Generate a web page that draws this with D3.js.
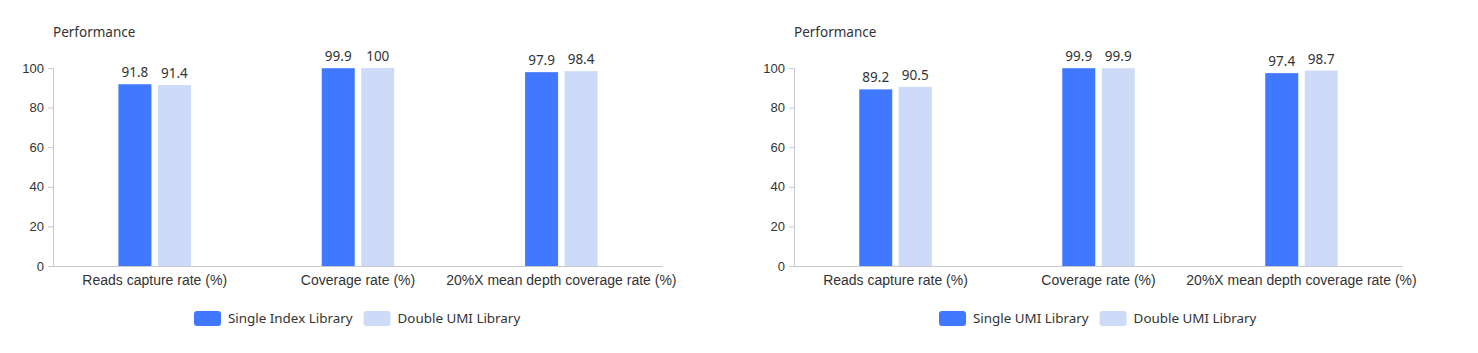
<!DOCTYPE html>
<html>
<head>
<meta charset="utf-8">
<script src="https://cdn.jsdelivr.net/npm/d3@7/dist/d3.min.js"></script>
<style>
  html, body { margin: 0; padding: 0; background: #fff; }
  svg { display: block; font-family: "Microsoft YaHei", "Noto Sans", "DejaVu Sans", sans-serif; }
</style>
</head>
<body>
<svg id="chart" width="1478" height="353"></svg>
<script>
const categories = ["Reads capture rate (%)", "Coverage rate (%)", "20%X mean depth coverage rate (%)"];
const yTicks = [0, 20, 40, 60, 80, 100];
const yAxisTitle = "Performance";

const leftSeriesNames = ["Single Index Library", "Double UMI Library"];
const leftSingle = [91.8, 99.9, 97.9];
const leftDouble = [91.4, 100, 98.4];

const rightSeriesNames = ["Single UMI Library", "Double UMI Library"];
const rightSingle = [89.2, 99.9, 97.4];
const rightDouble = [90.5, 99.9, 98.7];

const colors = ["#4079ff", "#cddbf8"];
const textColor = "#333";
const axisColor = "#c6c9cf";

const svg = d3.select("#chart");

function drawChart(opts) {
  const { x0, x1, yTop, yBottom, names, series, legendX } = opts;
  const g = svg.append("g");

  const x = d3.scaleBand().domain(categories).range([x0, x1]).paddingInner(0).paddingOuter(0);
  const y = d3.scaleLinear().domain([0, 100]).range([yBottom, yTop]);
  const bw = 33, gap = 6.5;

  // y axis
  const yAxis = d3.axisLeft(y).tickValues(yTicks).tickSize(5).tickPadding(4);
  const ya = g.append("g").attr("transform", `translate(${x0},0)`).call(yAxis);
  ya.select(".domain").attr("stroke", axisColor);
  ya.selectAll(".tick line").attr("stroke", axisColor);
  ya.selectAll(".tick text").attr("fill", textColor).attr("font-size", 13).style("font-family", "inherit");

  // x axis
  const xAxis = d3.axisBottom(x).tickSize(0).tickPadding(9);
  const xa = g.append("g").attr("transform", `translate(0,${yBottom})`).call(xAxis);
  xa.select(".domain").attr("stroke", axisColor).attr("d", `M${x0},0.5H${x1}`);
  xa.selectAll(".tick text").attr("fill", textColor).attr("font-size", 14).style("font-family", "inherit");

  // title
  g.append("text").attr("x", x0).attr("y", yTop - 31).attr("fill", textColor)
    .attr("font-size", 13.5).text(yAxisTitle);

  // bars
  series.forEach((vals, si) => {
    const offsets = si === 0 ? -gap / 2 - bw : gap / 2;
    const cx = c => x(c) + x.bandwidth() / 2;
    g.selectAll(null).data(categories).enter().append("rect")
      .attr("x", c => cx(c) + offsets)
      .attr("y", (c, i) => y(vals[i]))
      .attr("width", bw)
      .attr("height", (c, i) => yBottom - y(vals[i]))
      .attr("fill", colors[si]);
    g.selectAll(null).data(categories).enter().append("text")
      .attr("x", c => cx(c) + offsets + bw / 2)
      .attr("y", (c, i) => y(vals[i]) - 7)
      .attr("text-anchor", "middle")
      .attr("fill", textColor)
      .attr("font-size", 13.5)
      .text((c, i) => vals[i]);
  });

  // legend
  const lg = g.append("g").attr("transform", `translate(${legendX},311)`);
  let cx = 0;
  names.forEach((n, i) => {
    lg.append("rect").attr("x", cx).attr("y", 0).attr("width", 27).attr("height", 15)
      .attr("rx", 3).attr("fill", colors[i]);
    const t = lg.append("text").attr("x", cx + 34).attr("y", 12).attr("fill", textColor)
      .attr("font-size", 13.4).text(n);
    const w = t.node().getComputedTextLength();
    cx += 34 + w + 11;
  });
}

drawChart({ x0: 53, x1: 663, yTop: 68, yBottom: 266, names: leftSeriesNames,
  series: [leftSingle, leftDouble], legendX: 194 });
drawChart({ x0: 794, x1: 1403, yTop: 68, yBottom: 266, names: rightSeriesNames,
  series: [rightSingle, rightDouble], legendX: 939 });
</script>
</body>
</html>
